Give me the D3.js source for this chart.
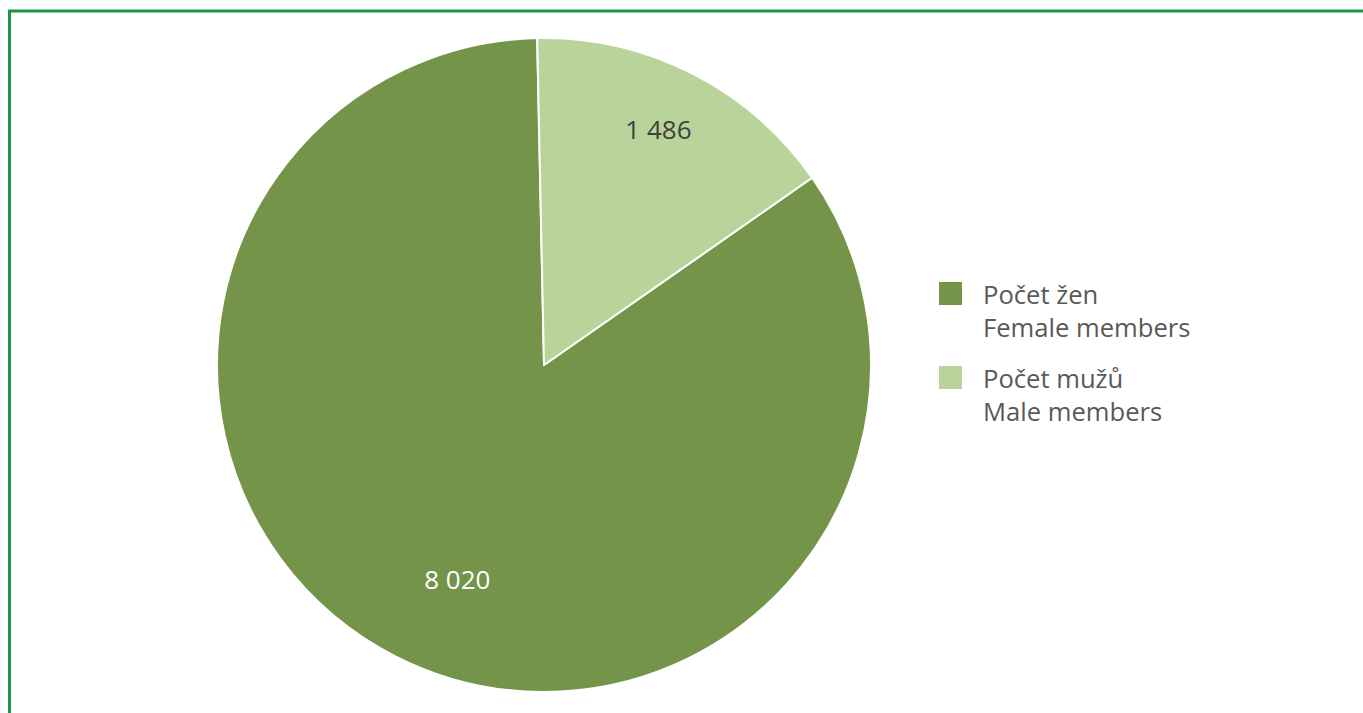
<!DOCTYPE html>
<html><head><meta charset="utf-8">
<script src="https://cdn.jsdelivr.net/npm/d3@7"></script>
<style>body{margin:0;background:#fff;}svg{display:block;}</style>
</head><body>
<svg id="c" width="1363" height="713"></svg>
<script>
const categories = ["Počet žen|Female members", "Počet mužů|Male members"];
const values = [8020, 1486];
const labels = ["8 020", "1 486"];
const colors = ["#739449", "#b8d49a"];
const labelColors = ["#ffffff", "#404040"];

const svg = d3.select("#c");
// frame
svg.append("path").attr("d","M9.5,713 V11 H1363").attr("fill","none").attr("stroke","#1e9448").attr("stroke-width",3);

const cx = 544, cy = 365, r = 327;
const maleFrac = values[1] / d3.sum(values);
const startMale = -1.2 * Math.PI / 180;
const data = categories.map((c,i)=>({c, v: values[i], i}));
const pie = d3.pie().value(d=>d.v).sort(null)
  .startAngle(startMale + 2*Math.PI*maleFrac - 2*Math.PI)
  .endAngle(startMale + 2*Math.PI*maleFrac);
const arcs = pie(data);
const arc = d3.arc().innerRadius(0).outerRadius(r);
const g = svg.append("g").attr("transform",`translate(${cx},${cy})`);
g.selectAll("path").data(arcs).join("path")
  .attr("d",arc).attr("fill",d=>colors[d.data.i])
  .attr("stroke","#fff").attr("stroke-width",2).attr("stroke-linejoin","round");
const labR = [0.71, 0.80];
const labShift = [-5, -1];
g.selectAll("text").data(arcs).join("text")
  .attr("transform",d=>{
    const a = (d.startAngle+d.endAngle)/2 + labShift[d.data.i]*Math.PI/180;
    const rr = r*labR[d.data.i];
    return `translate(${rr*Math.sin(a)},${-rr*Math.cos(a)})`;})
  .attr("text-anchor","middle").attr("dy","0.35em")
  .attr("font-family","'Open Sans', sans-serif").attr("font-size",26)
  .attr("fill",d=>labelColors[d.data.i]).text(d=>labels[d.data.i]);

// legend
const lg = svg.append("g").attr("transform","translate(939,282)");
categories.forEach((c,i)=>{
  const y = i*84;
  lg.append("rect").attr("x",0).attr("y",y).attr("width",23).attr("height",23).attr("fill",colors[i]);
  const parts = c.split("|");
  const t = lg.append("text").attr("x",44).attr("y",y+22)
    .attr("font-family","'Open Sans', sans-serif").attr("font-size",25.6).attr("fill","#595959");
  parts.forEach((p,k)=>t.append("tspan").attr("x",44).attr("dy",k?33:0).text(p));
});
</script>
</body></html>
